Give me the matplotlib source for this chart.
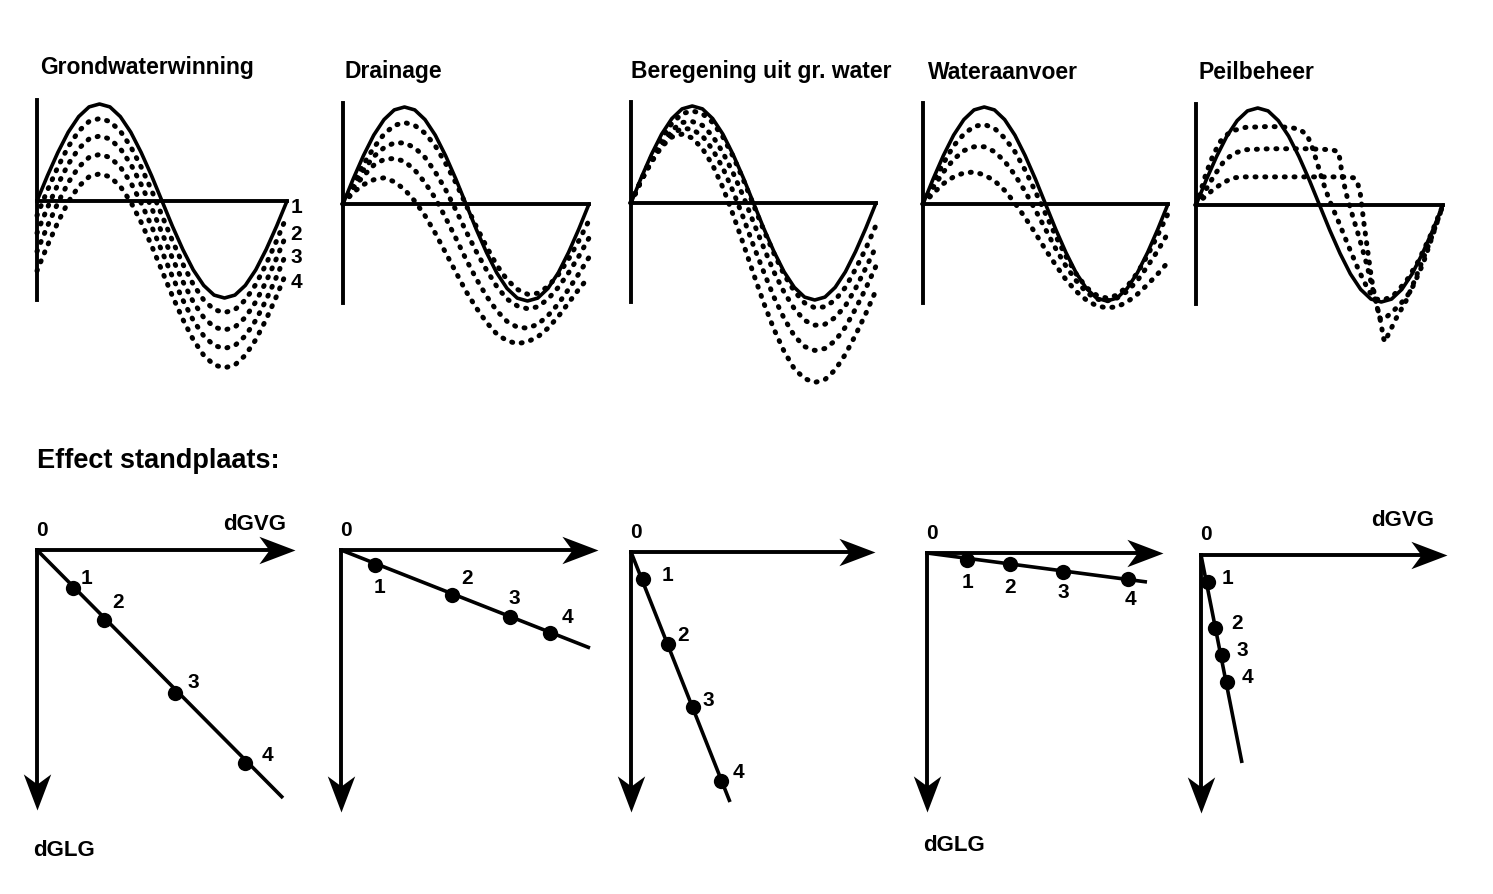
import matplotlib
matplotlib.use("Agg")
import matplotlib.pyplot as plt
from matplotlib.path import Path

plt.rcParams['font.family'] = ['Liberation Sans', 'DejaVu Sans']

# ---------------- data ----------------
# time axis: one hydrological year, half-month steps
t_year = [i / 24 for i in range(25)]

# solid reference groundwater level (units of the half range)
reference = [0, .26, .50, .71, .87, .97, 1.00, .97, .87, .71, .50, .26, 0,
             -.26, -.50, -.71, -.87, -.97, -1.00, -.97, -.87, -.71, -.50, -.26, 0]

grondwater_1 = [-.15, .11, .35, .56, .72, .82, .85, .82, .72, .56, .35, .11, -.15,
                -.41, -.65, -.86, -1.02, -1.12, -1.15, -1.12, -1.02, -.86, -.65, -.41, -.15]
grondwater_2 = [-.33, -.07, .17, .38, .54, .64, .67, .64, .54, .38, .17, -.07, -.33,
                -.59, -.83, -1.04, -1.20, -1.30, -1.33, -1.30, -1.20, -1.04, -.83, -.59, -.33]
grondwater_3 = [-.52, -.26, -.02, .19, .35, .45, .48, .45, .35, .19, -.02, -.26, -.52,
                -.78, -1.02, -1.23, -1.39, -1.49, -1.52, -1.49, -1.39, -1.23, -1.02, -.78, -.52]
grondwater_4 = [-.72, -.46, -.22, -.01, .15, .25, .28, .25, .15, -.01, -.22, -.46, -.72,
                -.98, -1.22, -1.43, -1.59, -1.69, -1.72, -1.69, -1.59, -1.43, -1.22, -.98, -.72]

drainage_1 = [0, .21, .41, .58, .72, .81, .84, .81, .73, .60, .42, .22, -.01,
              -.23, -.44, -.63, -.78, -.88, -.93, -.92, -.85, -.73, -.57, -.38, -.17]
drainage_2 = [0, .18, .35, .49, .58, .63, .63, .58, .48, .33, .15, -.06, -.28,
              -.49, -.68, -.85, -.98, -1.05, -1.08, -1.06, -.98, -.86, -.71, -.54, -.35]
drainage_3 = [0, .16, .29, .40, .46, .47, .44, .35, .22, .06, -.14, -.35, -.57,
              -.77, -.95, -1.10, -1.21, -1.27, -1.28, -1.24, -1.15, -1.03, -.88, -.72, -.55]
drainage_4 = [0, .12, .20, .25, .27, .23, .15, .03, -.12, -.30, -.50, -.70, -.90,
              -1.07, -1.22, -1.34, -1.41, -1.44, -1.42, -1.37, -1.28, -1.16, -1.02, -.88, -.75]

beregening_1 = [0, .24, .47, .67, .82, .92, .95, .92, .83, .68, .48, .24, -.02,
                -.28, -.52, -.74, -.91, -1.03, -1.08, -1.07, -1.00, -.87, -.68, -.47, -.23]
beregening_2 = [0, .23, .44, .61, .75, .83, .84, .80, .69, .52, .31, .07, -.20,
                -.46, -.71, -.92, -1.09, -1.21, -1.26, -1.25, -1.18, -1.06, -.88, -.67, -.45]
beregening_3 = [0, .23, .43, .60, .71, .77, .76, .69, .55, .36, .12, -.15, -.44,
                -.71, -.97, -1.19, -1.37, -1.48, -1.52, -1.50, -1.42, -1.28, -1.09, -.88, -.65]
beregening_4 = [0, .23, .42, .58, .68, .71, .67, .56, .39, .16, -.12, -.42, -.73,
                -1.03, -1.30, -1.53, -1.71, -1.81, -1.85, -1.82, -1.72, -1.56, -1.36, -1.14, -.90]

aanvoer_1 = [0, .22, .42, .60, .72, .80, .82, .78, .68, .54, .35, .13, -.10,
             -.33, -.54, -.72, -.86, -.94, -.97, -.94, -.85, -.71, -.53, -.32, -.10]
aanvoer_2 = [0, .17, .33, .46, .55, .59, .59, .54, .44, .30, .13, -.06, -.26,
             -.46, -.64, -.79, -.91, -.98, -1.00, -.97, -.90, -.79, -.64, -.48, -.30]
aanvoer_3 = [0, .11, .21, .28, .32, .33, .30, .24, .14, .01, -.14, -.30, -.47,
             -.63, -.78, -.90, -.99, -1.05, -1.07, -1.06, -1.01, -.93, -.83, -.72, -.60]

# Peilbeheer: irregular time points
peil_t1 = [0, .02, .04, .07, .10, .14, .20, .30, .38, .42, .45, .47, .49, .515, .54,
           .58, .62, .66, .70, .73, .76, .80, .85, .90, .95, 1.0]
peil_y1 = [0, .15, .32, .52, .66, .76, .80, .81, .80, .78, .72, .60, .44, .23, .05,
           -.19, -.44, -.68, -.89, -.97, -.98, -.93, -.79, -.58, -.31, 0]
peil_t2 = [0, .02, .05, .07, .11, .15, .20, .30, .45, .55, .575, .585, .59, .61, .635,
           .66, .69, .71, .73, .745, .76, .80, .85, .88, .92, .96, 1.0]
peil_y2 = [0, .08, .20, .29, .44, .53, .57, .58, .58, .57, .55, .45, .32, .10, -.12,
           -.33, -.60, -.81, -1.02, -1.17, -1.18, -1.09, -.96, -.83, -.60, -.30, 0]
peil_t3 = [0, .02, .07, .11, .15, .20, .40, .60, .64, .655, .665, .68, .695, .71, .725,
           .745, .76, .765, .77, .81, .85, .88, .905, .95, 1.0]
peil_y3 = [0, .05, .16, .23, .28, .29, .29, .29, .28, .22, .12, -.19, -.47, -.75, -.96,
           -1.17, -1.38, -1.41, -1.38, -1.17, -.99, -.81, -.65, -.36, 0]

top_titles = ["Grondwaterwinning", "Drainage", "Beregening uit gr. water",
              "Wateraanvoer", "Peilbeheer"]
level_labels = ["1", "2", "3", "4"]
level_label_y = [-.07, -.35, -.58, -.84]

# Effect standplaats: (dGVG, dGLG) of measures 1..4
effect_dgvg = [[0.36, 0.67, 1.38, 2.08],
               [0.34, 1.11, 1.69, 2.09],
               [0.12, 0.37, 0.62, 0.90],
               [0.40, 0.83, 1.36, 2.01],
               [0.07, 0.14, 0.21, 0.26]]
effect_dglg = [[0.38, 0.70, 1.43, 2.13],
               [0.15, 0.45, 0.67, 0.83],
               [0.27, 0.92, 1.55, 2.29],
               [0.07, 0.11, 0.19, 0.26],
               [0.27, 0.73, 1.00, 1.27]]
trend_end = [(2.46, 2.48), (2.49, 0.98), (0.99, 2.50), (2.20, 0.29), (0.41, 2.08)]
point_labels = ["1", "2", "3", "4"]

# ---------------- layout ----------------
W, H = 1493, 894
fig = plt.figure(figsize=(W / 100, H / 100), dpi=100)

AMP = 97.0  # px per level unit
top_origin = [(37, 201, 250), (343, 204, 246), (631, 203, 245), (923, 204, 245), (1196, 205, 247)]
bot_origin = [(37, 550), (341, 550), (631, 552), (927, 553), (1201, 555)]
BSC = 100.0  # px per unit in the lower panels
h_len = [2.58, 2.57, 2.44, 2.36, 2.46]
v_len = [2.60, 2.62, 2.60, 2.59, 2.58]

LW_AX = 2.8
LW_SOLID = 2.6
DOT = dict(color='black', lw=3.6, linestyle=(0, (0.2, 1.75)), dash_capstyle='round',
           solid_capstyle='round')


def add_axes_px(x0, y0, sx, sy, xlim, ylim_up):
    """ylim_up = (low, high) where positive is upwards on screen."""
    left = x0 + xlim[0] * sx
    right = x0 + xlim[1] * sx
    top = y0 - ylim_up[1] * sy
    bottom = y0 - ylim_up[0] * sy
    ax = fig.add_axes([left / W, 1 - bottom / H, (right - left) / W, (bottom - top) / H])
    ax.set_xlim(xlim)
    ax.set_ylim(ylim_up)
    ax.patch.set_alpha(0)
    return ax


panels = [
    [grondwater_1, grondwater_2, grondwater_3, grondwater_4],
    [drainage_1, drainage_2, drainage_3, drainage_4],
    [beregening_1, beregening_2, beregening_3, beregening_4],
    [aanvoer_1, aanvoer_2, aanvoer_3],
    None,
]

for i, (x0, y0, wpx) in enumerate(top_origin):
    ax = add_axes_px(x0, y0, wpx, AMP, (-0.1, 1.25), (-2.2, 1.2))
    for side in ('top', 'right'):
        ax.spines[side].set_visible(False)
    ax.spines['left'].set_position(('data', 0))
    ax.spines['left'].set_bounds(-1.02, 1.04)
    ax.spines['bottom'].set_position(('data', 0))
    ax.spines['bottom'].set_bounds(0, 1)
    for side in ('left', 'bottom'):
        ax.spines[side].set_linewidth(LW_AX)
    ax.set_xticks([])
    ax.set_yticks([])
    ax.plot(t_year, reference, color='black', lw=LW_SOLID, solid_capstyle='round')
    if panels[i] is not None:
        for series in panels[i]:
            ax.plot(t_year, series, **DOT)
    else:
        for tt, yy in ((peil_t1, peil_y1), (peil_t2, peil_y2), (peil_t3, peil_y3)):
            ax.plot(tt, yy, **DOT)
    if i == 0:
        for lab, ly in zip(level_labels, level_label_y):
            ax.text(1.036, ly, lab, ha='center', va='center', fontsize=15,
                    fontweight='bold', clip_on=False)

title_pos = [(40, 74), (345, 78), (631, 78), (928, 79), (1198, 79)]
for ttl, (tx, ty) in zip(top_titles, title_pos):
    fig.text(tx / W, 1 - ty / H, ttl, ha='left', va='baseline', fontsize=16.5,
             fontweight='bold')

fig.text(37 / W, 1 - 468 / H, "Effect standplaats:", ha='left', va='baseline',
         fontsize=19.5, fontweight='bold')

# arrowheads as custom markers (tip at vertex 0,0)
right_head = Path([(0, 0), (-1, 0.38), (-0.72, 0), (-1, -0.38), (0, 0)],
                  [Path.MOVETO, Path.LINETO, Path.LINETO, Path.LINETO, Path.CLOSEPOLY])
down_head = Path([(0, 0), (-0.38, 1), (0, 0.72), (0.38, 1), (0, 0)],
                 [Path.MOVETO, Path.LINETO, Path.LINETO, Path.LINETO, Path.CLOSEPOLY])

label_off = [[(14, -10), (14, -18), (18, -11), (22, -8)],
             [(5, 23), (15, -17), (4, -19), (17, -16)],
             [(25, -4), (15, -9), (15, -7), (17, -9)],
             [(1, 23), (0, 24), (0, 21), (2, 21)],
             [(20, -4), (22, -5), (20, -5), (20, -5)]]

for i, (cx, cy) in enumerate(bot_origin):
    ax = add_axes_px(cx, cy, BSC, BSC, (-0.4, 2.8), (-3.3, 0.5))
    ax.set_axis_off()
    # axes as arrows (y drawn downward: dGLG positive down)
    ax.plot([0, h_len[i] - 0.2], [0, 0], color='black', lw=LW_AX)
    ax.plot([h_len[i]], [0], marker=right_head, markersize=52, color='black', mew=0)
    ax.plot([0, 0], [0, -(v_len[i] - 0.2)], color='black', lw=LW_AX)
    ax.plot([0], [-v_len[i]], marker=down_head, markersize=52, color='black', mew=0)
    ex, ey = trend_end[i]
    ax.plot([0, ex], [0, -ey], color='black', lw=LW_SOLID, solid_capstyle='butt')
    gx = effect_dgvg[i]
    gy = [-v for v in effect_dglg[i]]
    ax.plot(gx, gy, 'o', color='black', markersize=11, mew=0)
    for lab, px_, py_, (ox, oy) in zip(point_labels, gx, gy, label_off[i]):
        ax.annotate(lab, (px_, py_), xytext=(ox / 1.389, -oy / 1.389),
                    textcoords='offset points', ha='center', va='center',
                    fontsize=15, fontweight='bold', annotation_clip=False)
    ax.text(0.05, 0.2, "0", ha='center', va='center', fontsize=15, fontweight='bold',
            clip_on=False)
    if i == 0:
        ax.text(2.18, 0.25, "dGVG", ha='center', va='center', fontsize=16,
                fontweight='bold', clip_on=False)
    if i == 4:
        ax.text(2.02, 0.34, "dGVG", ha='center', va='center', fontsize=16,
                fontweight='bold', clip_on=False)
    if i in (0, 3):
        dy = 3.01 if i == 0 else 2.92
        ax.text(0.27, -dy, "dGLG", ha='center', va='center', fontsize=16,
                fontweight='bold', clip_on=False)

fig.savefig("out.png", dpi=100)
